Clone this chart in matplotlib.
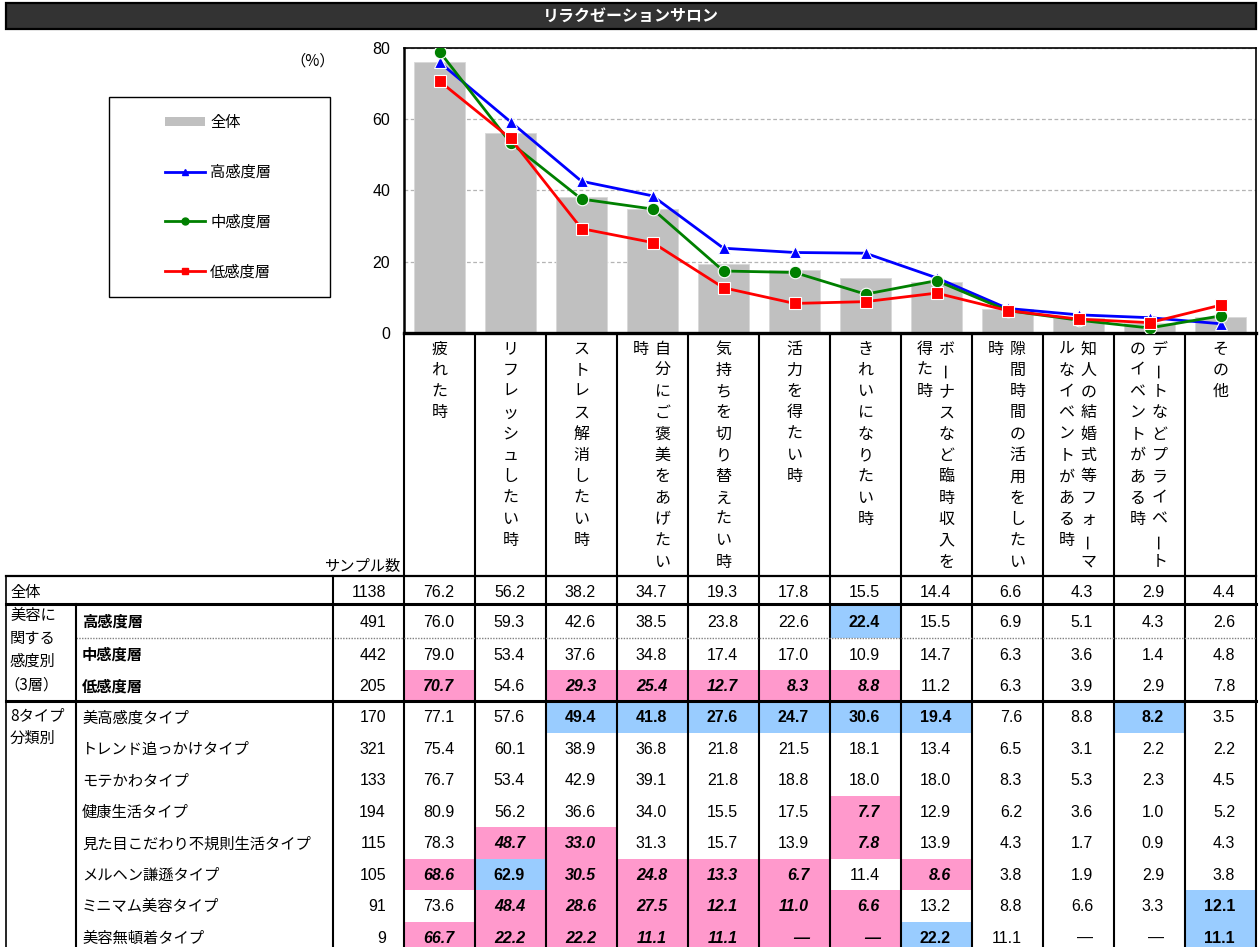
import matplotlib
matplotlib.use('Agg')
import matplotlib.pyplot as plt
from matplotlib.lines import Line2D
from matplotlib.patches import Patch, Rectangle
import numpy as np

plt.rcParams['font.family'] = ['Noto Sans CJK JP', 'DejaVu Sans']
NUM = ['Liberation Sans', 'DejaVu Sans']

# ---------------- data ----------------
title = 'リラクゼーションサロン'
categories = ['疲れた時', 'リフレッシュしたい時', 'ストレス解消したい時', '自分にご褒美をあげたい時',
              '気持ちを切り替えたい時', '活力を得たい時', 'きれいになりたい時', 'ボーナスなど臨時収入を得た時',
              '隙間時間の活用をしたい時', '知人の結婚式等フォーマルなイベントがある時',
              'デートなどプライベートのイベントがある時', 'その他']
series_names = ['全体', '高感度層', '中感度層', '低感度層']
total = [76.2, 56.2, 38.2, 34.7, 19.3, 17.8, 15.5, 14.4, 6.6, 4.3, 2.9, 4.4]
high = [76.0, 59.3, 42.6, 38.5, 23.8, 22.6, 22.4, 15.5, 6.9, 5.1, 4.3, 2.6]
mid = [79.0, 53.4, 37.6, 34.8, 17.4, 17.0, 10.9, 14.7, 6.3, 3.6, 1.4, 4.8]
low = [70.7, 54.6, 29.3, 25.4, 12.7, 8.3, 8.8, 11.2, 6.3, 3.9, 2.9, 7.8]
yticks = [0, 20, 40, 60, 80]

row_labels = ['全体', '高感度層', '中感度層', '低感度層', '美高感度タイプ', 'トレンド追っかけタイプ',
              'モテかわタイプ', '健康生活タイプ', '見た目こだわり不規則生活タイプ', 'メルヘン謙遜タイプ',
              'ミニマム美容タイプ', '美容無頓着タイプ']
group_labels = ['美容に', '関する', '感度別', '（3層）']
type_group_labels = ['8タイプ', '分類別']
samples = [1138, 491, 442, 205, 170, 321, 133, 194, 115, 105, 91, 9]
row_types = [total,
             high,
             mid,
             low,
             [77.1, 57.6, 49.4, 41.8, 27.6, 24.7, 30.6, 19.4, 7.6, 8.8, 8.2, 3.5],
             [75.4, 60.1, 38.9, 36.8, 21.8, 21.5, 18.1, 13.4, 6.5, 3.1, 2.2, 2.2],
             [76.7, 53.4, 42.9, 39.1, 21.8, 18.8, 18.0, 18.0, 8.3, 5.3, 2.3, 4.5],
             [80.9, 56.2, 36.6, 34.0, 15.5, 17.5, 7.7, 12.9, 6.2, 3.6, 1.0, 5.2],
             [78.3, 48.7, 33.0, 31.3, 15.7, 13.9, 7.8, 13.9, 4.3, 1.7, 0.9, 4.3],
             [68.6, 62.9, 30.5, 24.8, 13.3, 6.7, 11.4, 8.6, 3.8, 1.9, 2.9, 3.8],
             [73.6, 48.4, 28.6, 27.5, 12.1, 11.0, 6.6, 13.2, 8.8, 6.6, 3.3, 12.1],
             [66.7, 22.2, 22.2, 11.1, 11.1, None, None, 22.2, 11.1, None, None, 11.1]]
# p = significantly low (pink), b = significantly high (blue)
highlights = ['............',
              '......b.....',
              '............',
              'p.ppppp.....',
              '..bbbbbb..b.',
              '............',
              '............',
              '......p.....',
              '.pp...p.....',
              'pbpppp.p....',
              '.pppppp....b',
              'pppppppb...b']

# ---------------- layout ----------------
W, H = 1260, 947
fig = plt.figure(figsize=(W / 100, H / 100), dpi=100)

ov = fig.add_axes([0, 0, 1, 1])
ov.set_xlim(0, W)
ov.set_ylim(H, 0)
ov.axis('off')

X0, X1, YTOP, YBOT = 404, 1256, 48, 333
ax = fig.add_axes([X0 / W, 1 - YBOT / H, (X1 - X0) / W, (YBOT - YTOP) / H])
x = np.arange(len(categories))
ax.bar(x, total, width=0.72, color='#C0C0C0', edgecolor='#D8D8D8', linewidth=0.6, zorder=2)
ax.plot(x, mid, color='#008000', lw=2, marker='o', ms=9, mec='white', mew=0.8, zorder=4)
ax.plot(x, low, color='#FF0000', lw=2, marker='s', ms=8.5, mec='white', mew=0.8, zorder=5)
ax.plot(x, high, color='#0000FF', lw=2, marker='^', ms=9, mec='white', mew=0.8, zorder=3)
ax.set_xlim(-0.5, len(categories) - 0.5)
ax.set_ylim(0, 80)
ax.set_yticks(yticks)
ax.set_xticks([])
ax.set_axisbelow(True)
ax.yaxis.grid(True, linestyle=(0, (3, 2)), color='#B4B4B4', lw=0.9)
ax.tick_params(axis='y', length=0, pad=10, labelsize=11.5)
for lbl in ax.get_yticklabels():
    lbl.set_family(NUM)
ax.spines['left'].set_linewidth(1.8)
ax.spines['top'].set_linewidth(1.2)
ax.spines['right'].set_linewidth(1.2)
ax.spines['bottom'].set_linewidth(2.4)
for s in ax.spines.values():
    s.set_color('black')

# legend
handles = [Patch(facecolor='#C0C0C0', edgecolor='none'),
           Line2D([], [], color='#0000FF', lw=2, marker='^', ms=5),
           Line2D([], [], color='#008000', lw=2, marker='o', ms=5),
           Line2D([], [], color='#FF0000', lw=2, marker='s', ms=5)]
fig.legend(handles, series_names, loc='center', bbox_to_anchor=(218 / W, 1 - 197 / H),
           frameon=False, fontsize=11, handlelength=2.6, handletextpad=0.35,
           labelspacing=2.15, handleheight=0.55)
ov.add_patch(Rectangle((109, 97), 221, 200, fill=False, edgecolor='black', lw=1.0))
ov.text(313, 61, '（%）', ha='center', va='center', fontsize=11)

# title bar
ov.add_patch(Rectangle((6, 3), 1250, 26, facecolor='#333333', edgecolor='black', lw=1.6))
ov.text(631, 16.5, title, ha='center', va='center', fontsize=11.5, color='white', fontweight='bold')

# columns
ncol = len(categories)
cw = (X1 - X0) / ncol
edges = [X0 + cw * i for i in range(ncol + 1)]
for xe in edges:
    ov.plot([xe, xe], [YBOT, H], color='black', lw=1.5, zorder=3, solid_capstyle='butt')

# vertical category headers
for i, cat in enumerate(categories):
    chunks = [cat[k:k + 11] for k in range(0, len(cat), 11)]
    cx = X0 + cw * (i + 0.5)
    offs = [0] if len(chunks) == 1 else [10, -12]
    for chunk, off in zip(chunks, offs):
        for j, ch in enumerate(chunk):
            rot = 90 if ch == 'ー' else 0
            ov.text(cx + off, 349 + j * 21.3, ch, ha='center', va='center', fontsize=11.5, rotation=rot)

ov.text(400, 566, 'サンプル数', ha='right', va='center', fontsize=11)

# table rows
row_edges = [576, 604, 638, 670, 701] + [701 + 31.5 * k for k in range(1, 9)]
colors = {'p': '#FF99CC', 'b': '#99CCFF'}
for r, (lab, n, vals, hl) in enumerate(zip(row_labels, samples, row_types, highlights)):
    yt, yb = row_edges[r], row_edges[r + 1]
    yc = (yt + yb) / 2 + (2 if r == 0 else 1)
    if r == 0:
        ov.text(10, yc, lab, ha='left', va='center', fontsize=11)
    else:
        ov.text(82, yc, lab, ha='left', va='center', fontsize=11,
                fontweight='bold' if r <= 3 else 'normal')
    ov.text(386, yc, str(n), ha='right', va='center', fontsize=11.5, family=NUM)
    for c, v in enumerate(vals):
        h = hl[c]
        if h in colors:
            ov.add_patch(Rectangle((edges[c], yt), cw, yb - yt, facecolor=colors[h],
                                   edgecolor='none', zorder=1))
        s = '—' if v is None else f'{v:.1f}'
        ov.text(edges[c + 1] - 21, yc, s, ha='right', va='center', fontsize=11.5, family=NUM,
                fontweight='bold' if h in colors else 'normal',
                fontstyle='italic' if h == 'p' else 'normal', zorder=4)

for i, g in enumerate(group_labels):
    ov.text(10 if i < 3 else 4, 615 + i * 23.3, g, ha='left', va='center', fontsize=11)
for i, g in enumerate(type_group_labels):
    ov.text(10, 716 + i * 22, g, ha='left', va='center', fontsize=11)

# table lines
ov.plot([6, X1], [576, 576], color='black', lw=1.6, zorder=3)
ov.plot([6, X1], [604, 604], color='black', lw=2.2, zorder=3)
ov.plot([76, X1], [638, 638], color='#808080', lw=1.0, ls=(0, (1, 1)), zorder=3)
ov.plot([6, X1], [701, 701], color='black', lw=2.2, zorder=3)
ov.plot([6, 6], [576, H], color='black', lw=1.2, zorder=3)
ov.plot([76, 76], [604, H], color='black', lw=1.5, zorder=3)
ov.plot([333, 333], [576, H], color='black', lw=1.5, zorder=3)

fig.savefig('out.png', dpi=100)
